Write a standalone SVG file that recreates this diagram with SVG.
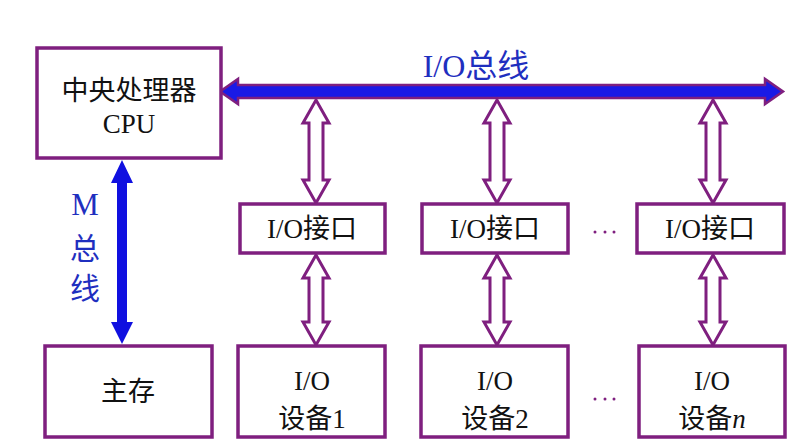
<svg xmlns="http://www.w3.org/2000/svg" width="798" height="440" viewBox="0 0 798 440">
<style>
.box{fill:#fff;stroke:#7f1f7f;stroke-width:3.5}
.t{font-family:"Liberation Serif","Noto Sans CJK SC",serif;font-size:27px;fill:#111;text-anchor:middle}
.blue{font-family:"Liberation Serif","Noto Sans CJK SC",serif;fill:#1f2fbf;text-anchor:middle}
.hollow{fill:#fff;stroke:#7f1f7f;stroke-width:3;stroke-linejoin:miter}
.dot{fill:#7f1f7f}
</style>
<rect width="798" height="440" fill="#fff"/>
<g id="connectors">
<polygon id="io-bus" points="220,91.5 238,79 238,85 765,85 765,79 783,91.5 765,104 765,98 238,98 238,104" fill="#1a1ae6" stroke="#7f1f7f" stroke-width="2.5"/>
<polygon id="m-bus" points="122,160 133,183 127,183 127,322 133,322 122,344 111,322 117,322 117,183 111,183" fill="#1010e0"/>
<polygon class="hollow" points="316,100 329,123 323,123 323,180 329,180 316,203 303,180 309,180 309,123 303,123"/>
<polygon class="hollow" points="497,100 510,123 504,123 504,180 510,180 497,203 484,180 490,180 490,123 484,123"/>
<polygon class="hollow" points="713,100 726,123 720,123 720,180 726,180 713,203 700,180 706,180 706,123 700,123"/>
<polygon class="hollow" points="316,255 329,278 323,278 323,322 329,322 316,345 303,322 309,322 309,278 303,278"/>
<polygon class="hollow" points="497,255 510,278 504,278 504,322 510,322 497,345 484,322 490,322 490,278 484,278"/>
<polygon class="hollow" points="713,255 726,278 720,278 720,322 726,322 713,345 700,322 706,322 706,278 700,278"/>
</g>
<text class="blue" x="476" y="77" font-size="32">I/O总线</text>
<text class="blue" x="85" y="215" font-size="31">M</text>
<text class="blue" x="85" y="259" font-size="30">总</text>
<text class="blue" x="85" y="299" font-size="30">线</text>
<g id="cpu">
<rect class="box" x="37" y="48" width="184" height="110"/>
<text class="t" x="129" y="100">中央处理器</text>
<text class="t" x="129" y="133">CPU</text>
</g>
<g id="memory">
<rect class="box" x="45" y="346" width="167" height="91"/>
<text class="t" x="128" y="401">主存</text>
</g>
<g id="if1">
<rect class="box" x="240" y="204" width="145" height="49"/>
<text class="t" x="312" y="238">I/O接口</text>
</g>
<g id="if2">
<rect class="box" x="422" y="204" width="146" height="49"/>
<text class="t" x="495" y="238">I/O接口</text>
</g>
<g id="if3">
<rect class="box" x="637" y="204" width="147" height="49"/>
<text class="t" x="710" y="238">I/O接口</text>
</g>
<g id="dev1">
<rect class="box" x="238" y="346" width="147" height="91"/>
<text class="t" x="312" y="390">I/O</text>
<text class="t" x="312" y="428">设备1</text>
</g>
<g id="dev2">
<rect class="box" x="421" y="346" width="147" height="91"/>
<text class="t" x="495" y="390">I/O</text>
<text class="t" x="495" y="428">设备2</text>
</g>
<g id="devn">
<rect class="box" x="639" y="346" width="146" height="91"/>
<text class="t" x="712" y="390">I/O</text>
<text class="t" x="712" y="428">设备<tspan font-style="italic">n</tspan></text>
</g>
<g id="dots">
<circle class="dot" cx="595" cy="232" r="1.5"/><circle class="dot" cx="605" cy="232" r="1.5"/><circle class="dot" cx="614" cy="232" r="1.5"/>
<circle class="dot" cx="595" cy="399" r="1.5"/><circle class="dot" cx="605" cy="399" r="1.5"/><circle class="dot" cx="614" cy="399" r="1.5"/>
</g>
</svg>
